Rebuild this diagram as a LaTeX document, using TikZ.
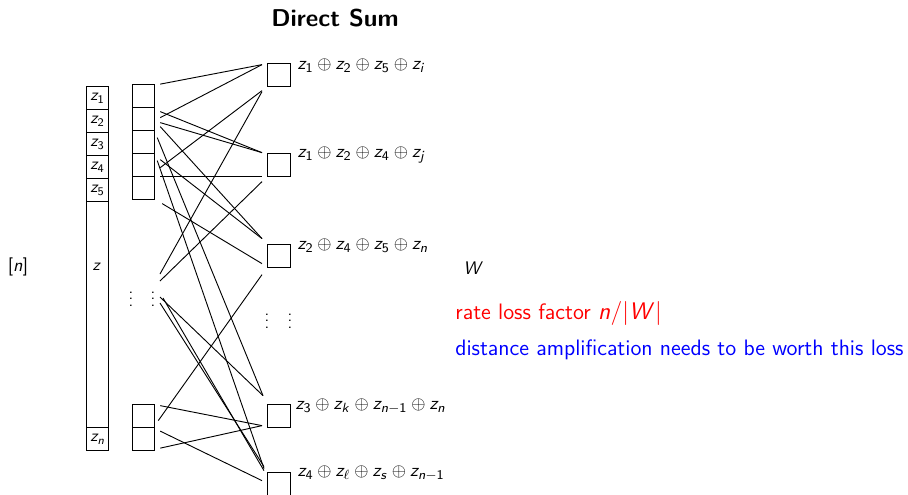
\documentclass[tikz,border=0pt]{standalone}
\usetikzlibrary{calc}
\renewcommand{\familydefault}{\sfdefault}
\DeclareSymbolFont{sfit}{OT1}{cmss}{m}{sl}
\DeclareSymbolFont{sfup}{OT1}{cmss}{m}{n}
\DeclareMathSymbol{z}{\mathalpha}{sfit}{`z}
\DeclareMathSymbol{n}{\mathalpha}{sfit}{`n}
\DeclareMathSymbol{W}{\mathalpha}{sfit}{`W}
\DeclareMathSymbol{i}{\mathalpha}{sfit}{`i}
\DeclareMathSymbol{j}{\mathalpha}{sfit}{`j}
\DeclareMathSymbol{k}{\mathalpha}{sfit}{`k}
\DeclareMathSymbol{s}{\mathalpha}{sfit}{`s}
\DeclareMathSymbol{1}{\mathalpha}{sfup}{`1}
\DeclareMathSymbol{2}{\mathalpha}{sfup}{`2}
\DeclareMathSymbol{3}{\mathalpha}{sfup}{`3}
\DeclareMathSymbol{4}{\mathalpha}{sfup}{`4}
\DeclareMathSymbol{5}{\mathalpha}{sfup}{`5}
\DeclareMathSymbol{[}{\mathopen}{sfup}{`[}
\DeclareMathSymbol{]}{\mathclose}{sfup}{`]}
\DeclareMathSymbol{/}{\mathord}{sfup}{`/}
\begin{document}
\begin{tikzpicture}[x=0.6pt,y=-0.6pt,
  cell/.style={draw,line width=0.75pt,minimum width=13.2pt,minimum height=13.8pt,inner sep=0pt,anchor=north west},
  sq/.style={draw,line width=0.75pt,minimum width=13.8pt,minimum height=13.8pt,inner sep=0pt,anchor=north west},
  edge/.style={line width=0.55pt},
  lbl/.style={anchor=west,inner sep=0pt,font=\fontsize{10.9}{12}\selectfont},
  txt/.style={anchor=west,inner sep=0pt,font=\fontsize{13.4}{15}\selectfont}]
\useasboundingbox (0,0) rectangle (908,494);
% title
\node[font=\fontsize{14.6}{17}\selectfont\bfseries] (title) at (335,18) {Direct Sum};
\node[font=\fontsize{11}{13}\selectfont] (nlab) at (18,267) {$[n]$};
% left column
\node[cell] (l1) at (86,86) {$z_1$};
\node[cell] (l2) at (86,109) {$z_2$};
\node[cell] (l3) at (86,132) {$z_3$};
\node[cell] (l4) at (86,155) {$z_4$};
\node[cell] (l5) at (86,178) {$z_5$};
\node[cell,minimum height=135.6pt] (lz) at (86,201) {};
\node (zlab) at (97,267) {$z$};
\node[cell] (ln) at (86,427) {$z_n$};
% middle column
\node[cell] (m1) at (132,84) {};
\node[cell] (m2) at (132,107) {};
\node[cell] (m3) at (132,130) {};
\node[cell] (m4) at (132,153) {};
\node[cell] (m5) at (132,176) {};
\node[cell] (mn1) at (132,404) {};
\node[cell] (mn) at (132,427) {};
\node[inner sep=0pt] (d1) at (131,294) {$\vdots$};
\node[inner sep=0pt] (d2) at (153,294) {$\vdots$};
% right squares
\node[sq] (s1) at (267,63) {};
\node[sq] (s2) at (267,153) {};
\node[sq] (s3) at (267,244) {};
\node[sq] (s4) at (267,404) {};
\node[sq] (s5) at (267,472) {};
\node[inner sep=0pt] (r1) at (267,316) {$\vdots$};
\node[inner sep=0pt] (r2) at (290,316) {$\vdots$};
% labels
\node[lbl] (t1) at ($(s1.north east)+(6,3)$) {$z_1\oplus z_2\oplus z_5\oplus z_i$};
\node[lbl] (t2) at ($(s2.north east)+(6,2)$) {$z_1\oplus z_2\oplus z_4\oplus z_j$};
\node[lbl] (t3) at ($(s3.north east)+(6,2)$) {$z_2\oplus z_4\oplus z_5\oplus z_n$};
\node[lbl] (t4) at ($(s4.north east)+(4,2)$) {$z_3\oplus z_k\oplus z_{n-1}\oplus z_n$};
\node[lbl] (t5) at ($(s5.north east)+(6,1)$) {$z_4\oplus z_\ell\oplus z_s\oplus z_{n-1}$};
% right texts
\node[txt,font=\fontsize{11}{13}\selectfont] (w) at (463,268) {$W$};
\node[txt,text=red] (rate) at (455,313) {rate loss factor $n/|W|$};
\node[txt,text=blue] (dist) at (455,350) {distance amplification needs to be worth this loss};
% edges
\draw[edge] ($(m1.east)+(5,-12)$) -- ($(s1.west)+(-5,-10.5)$);
\draw[edge] ($(m2.east)+(5,-1.5)$) -- ($(s1.west)+(-5,-10.5)$);
\draw[edge] ($(m4.east)+(5,2.5)$) -- ($(s1.west)+(-5,15.5)$);
\draw[edge] ($(d2)+(7,-20)$) -- ($(s1.west)+(-5,16.5)$);
\draw[edge] ($(m2.east)+(5,-7.5)$) -- ($(s2.west)+(-5,-12.5)$);
\draw[edge] ($(m2.east)+(5,3.5)$) -- ($(s2.west)+(-5,-12.5)$);
\draw[edge] ($(m4.east)+(5,11.5)$) -- ($(s2.west)+(-5,11.5)$);
\draw[edge] ($(d2)+(7,-13)$) -- ($(s2.west)+(-5,16.5)$);
\draw[edge] ($(m2.east)+(5,7.5)$) -- ($(s3.west)+(-5,-17.5)$);
\draw[edge] ($(m4.east)+(5,-5.5)$) -- ($(s3.west)+(-5,-17.5)$);
\draw[edge] ($(m5.east)+(7,15.5)$) -- ($(s3.west)+(-5,7.5)$);
\draw[edge] ($(mn1.east)+(3,4.5)$) -- ($(s3.west)+(-5,18.5)$);
\draw[edge] ($(m3.east)+(2,-4.5)$) -- ($(s4.west)+(-4,-20.5)$);
\draw[edge] ($(d2)+(7,3)$) -- ($(s4.west)+(-4,-20.5)$);
\draw[edge] ($(mn1.east)+(5,-10.5)$) -- ($(s4.west)+(-5,9.5)$);
\draw[edge] ($(mn.east)+(5,9)$) -- ($(s4.west)+(-5,9.5)$);
\draw[edge] ($(m4.east)+(2,-4.5)$) -- ($(s5.west)+(-3,-15.5)$);
\draw[edge] ($(d2)+(7,9)$) -- ($(s5.west)+(-3,-17.5)$);
\draw[edge] ($(d2)+(10,4)$) -- ($(s5.west)+(-3,-13.5)$);
\draw[edge] ($(mn.east)+(5,-8)$) -- ($(s5.west)+(-5,-3.5)$);
\end{tikzpicture}
\end{document}
